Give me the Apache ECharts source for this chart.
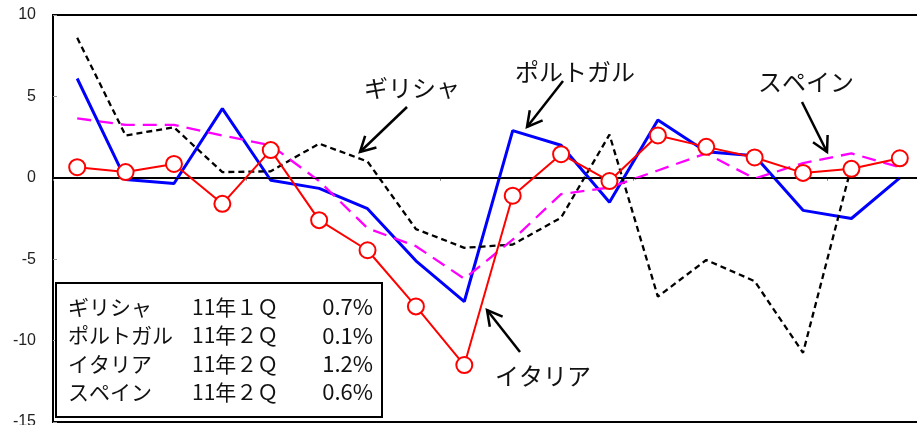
<!DOCTYPE html>
<html>
<head>
<meta charset="utf-8">
<style>
html, body { margin: 0; padding: 0; background: #fff; }
#main { width: 917px; height: 425px; }
</style>
<script src="https://cdn.jsdelivr.net/npm/echarts@6/dist/echarts.min.js"></script>
</head>
<body>
<div id="main"></div>
<script>
// 四半期 (07年1Q 〜 11年2Q)
var quarters = ['07/1Q', '07/2Q', '07/3Q', '07/4Q', '08/1Q', '08/2Q', '08/3Q', '08/4Q',
    '09/1Q', '09/2Q', '09/3Q', '09/4Q', '10/1Q', '10/2Q', '10/3Q', '10/4Q', '11/1Q', '11/2Q'];

// 前期比 (%)
var greece   = [8.6, 2.6, 3.1, 0.35, 0.4, 2.1, 1.0, -3.15, -4.3, -4.1, -2.45, 2.65, -7.3, -5.05, -6.35, -10.75, 0.7, null];
var portugal = [6.1, -0.1, -0.35, 4.25, -0.15, -0.65, -1.9, -5.1, -7.6, 2.9, 2.0, -1.5, 3.55, 1.6, 1.35, -2.0, -2.5, 0];
var italy    = [0.65, 0.35, 0.85, -1.6, 1.7, -2.6, -4.45, -7.9, -11.5, -1.1, 1.45, -0.2, 2.6, 1.9, 1.25, 0.3, 0.55, 1.2];
var spain    = [3.65, 3.25, 3.25, 2.6, 2.0, -0.2, -3.1, -4.2, -6.2, -3.8, -1.0, -0.6, 0.45, 1.5, -0.05, 0.9, 1.5, 0.65];

// y軸
var yMin = -15;
var yMax = 10;
var yStep = 5;

// 直近の値 (左下の表)
var tableNames   = ['ギリシャ', 'ポルトガル', 'イタリア', 'スペイン'];
var tablePeriods = ['11年１Ｑ', '11年２Ｑ', '11年２Ｑ', '11年２Ｑ'];
var tableValues  = ['0.7%', '0.1%', '1.2%', '0.6%'];

// 吹き出し
var callouts = [
    { text: 'ギリシャ',   x: 412, y: 88,  from: [407, 107], to: [360, 152] },
    { text: 'ポルトガル', x: 575, y: 72,  from: [563, 81],  to: [527, 127] },
    { text: 'スペイン',   x: 806, y: 82,  from: [802, 102], to: [827, 152] },
    { text: 'イタリア',   x: 543, y: 376, from: [520, 352], to: [487, 310] }
];

var jpFont = '"Noto Sans CJK JP", sans-serif';

function arrow(from, to) {
    var dx = to[0] - from[0], dy = to[1] - from[1];
    var ang = Math.atan2(dy, dx);
    var len = 17, spread = 0.5;
    var a1 = [to[0] - len * Math.cos(ang - spread), to[1] - len * Math.sin(ang - spread)];
    var a2 = [to[0] - len * Math.cos(ang + spread), to[1] - len * Math.sin(ang + spread)];
    return [
        { type: 'polyline', z: 100, shape: { points: [from, to] }, style: { stroke: '#000', lineWidth: 2.5, fill: null } },
        { type: 'polyline', z: 100, shape: { points: [a1, to, a2] }, style: { stroke: '#000', lineWidth: 2.5, fill: null } }
    ];
}

var graphics = [];
for (var i = 0; i < callouts.length; i++) {
    var c = callouts[i];
    graphics.push({
        type: 'text', z: 100,
        style: { text: c.text, x: c.x, y: c.y, font: '24px ' + jpFont, fill: '#111', align: 'center', verticalAlign: 'middle' }
    });
    graphics = graphics.concat(arrow(c.from, c.to));
}

// 表の枠
graphics.push({
    type: 'rect', z: 100,
    shape: { x: 56, y: 283, width: 326, height: 134 },
    style: { fill: '#fff', stroke: '#000', lineWidth: 2 }
});
for (var j = 0; j < tableNames.length; j++) {
    var ty = 307 + j * 28.3;
    graphics.push({ type: 'text', z: 101, style: { text: tableNames[j], x: 68, y: ty, font: '21px ' + jpFont, fill: '#111', align: 'left', verticalAlign: 'middle' } });
    graphics.push({ type: 'text', z: 101, style: { text: tablePeriods[j], x: 192, y: ty, font: '21px ' + jpFont, fill: '#111', align: 'left', verticalAlign: 'middle' } });
    graphics.push({ type: 'text', z: 101, style: { text: tableValues[j], x: 373, y: ty, font: '22px ' + jpFont, fill: '#111', align: 'right', verticalAlign: 'middle' } });
}

var myChart = echarts.init(document.getElementById('main'));
var option = {
    animation: false,
    backgroundColor: '#fff',
    grid: {
        left: 53, top: 15, width: 871, bottom: 3,
        show: true, borderColor: '#000', borderWidth: 2,
        containLabel: false, outerBoundsMode: 'none'
    },
    xAxis: {
        type: 'category',
        data: quarters,
        boundaryGap: true,
        axisLine: { lineStyle: { color: '#000', width: 2 } },
        axisTick: { show: true, interval: 3, length: 3, lineStyle: { color: '#888' } },
        axisLabel: { show: false },
        splitLine: { show: false }
    },
    yAxis: {
        type: 'value',
        min: yMin, max: yMax, interval: yStep,
        axisLine: { show: true, lineStyle: { color: '#000', width: 2 } },
        axisTick: { show: true, inside: true, length: 4, lineStyle: { color: '#999' } },
        axisLabel: { margin: 17, fontSize: 16, fontFamily: 'Liberation Sans', color: '#222' },
        splitLine: { show: false }
    },
    series: [
        {
            name: 'ポルトガル', type: 'line', data: portugal, symbol: 'none',
            lineStyle: { color: '#0000ff', width: 3 }, z: 3,
            markLine: {
                silent: true, symbol: 'none', label: { show: false },
                lineStyle: { color: '#000', width: 1, type: 'solid' },
                data: [{ yAxis: 0 }]
            }
        },
        {
            name: 'ギリシャ', type: 'line', data: greece, symbol: 'none',
            lineStyle: { color: '#000', width: 2.3, type: [6, 4] }, z: 4
        },
        {
            name: 'スペイン', type: 'line', data: spain, symbol: 'none',
            lineStyle: { color: '#ff00ff', width: 2.3, type: [14, 8] }, z: 4
        },
        {
            name: 'イタリア', type: 'line', data: italy,
            symbol: 'circle', symbolSize: 16,
            itemStyle: { color: '#fff', borderColor: '#ff0000', borderWidth: 2 },
            lineStyle: { color: '#ff0000', width: 2 }, z: 5
        }
    ],
    graphic: graphics
};
myChart.setOption(option);
</script>
</body>
</html>
